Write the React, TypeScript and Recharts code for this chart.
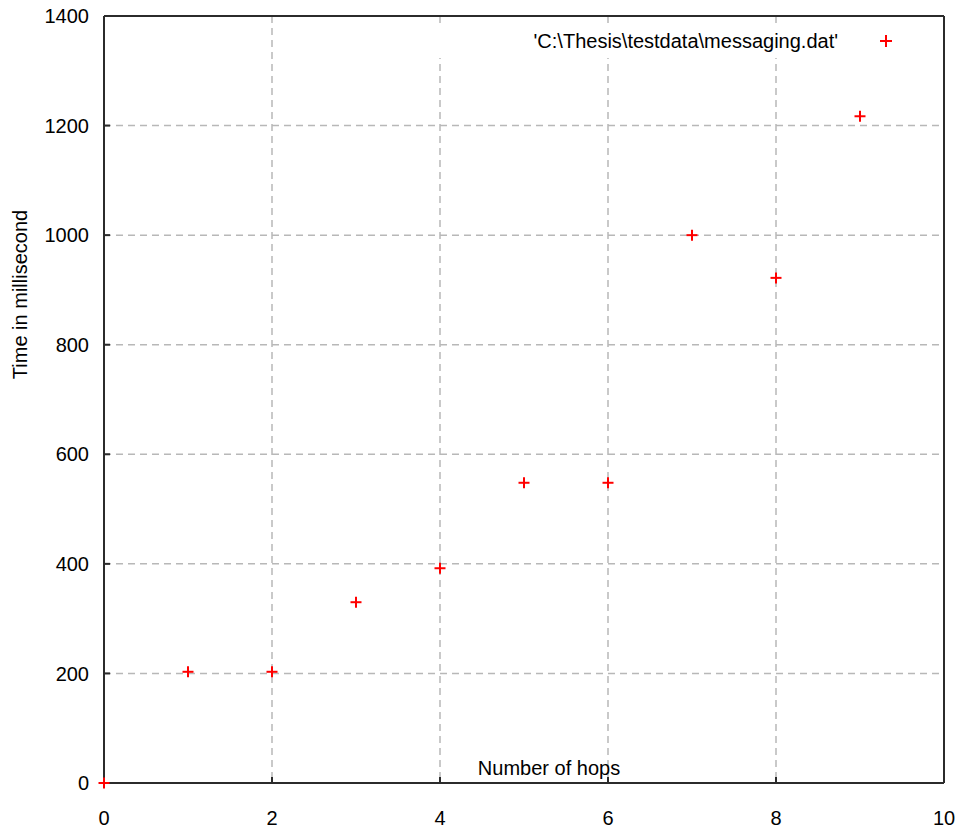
import React from "react";
import {
  CartesianGrid,
  Label,
  Legend,
  Scatter,
  ScatterChart,
  XAxis,
  YAxis,
} from "recharts";

const hops = [0, 1, 2, 3, 4, 5, 6, 7, 8, 9];
const timeMs = [0, 203, 203, 330, 392, 548, 548, 1000, 922, 1217];
const xTicks = [0, 2, 4, 6, 8, 10];
const yTicks = [0, 200, 400, 600, 800, 1000, 1200, 1400];
const seriesName = "'C:\\Thesis\\testdata\\messaging.dat'";

const data = hops.map((h, i) => ({ hops: h, time: timeMs[i] }));

const FONT = "'Liberation Sans', Arial, sans-serif";
const FRAME = "#2b2b2b";
const RED = "#ff0000";

function Plus(props: any) {
  const { cx, cy } = props;
  if (cx == null || cy == null) return null;
  const r = 5.5;
  return (
    <g stroke={RED} strokeWidth={2}>
      <line x1={cx - r} y1={cy} x2={cx + r} y2={cy} />
      <line x1={cx} y1={cy - r} x2={cx} y2={cy + r} />
    </g>
  );
}

function NoMark() {
  return null;
}

function KeyContent() {
  return (
    <div
      style={{
        display: "flex",
        justifyContent: "flex-end",
        alignItems: "center",
        height: "100%",
        paddingRight: 43,
        fontFamily: FONT,
        fontSize: 20,
        color: "#000",
      }}
    >
      <span>{seriesName}</span>
      <svg width={12} height={12} style={{ marginLeft: 42 }}>
        <line x1={0} y1={6} x2={12} y2={6} stroke={RED} strokeWidth={2} />
        <line x1={6} y1={0} x2={6} y2={12} stroke={RED} strokeWidth={2} />
      </svg>
    </div>
  );
}

function XLabel(props: any) {
  const vb = props.viewBox;
  return (
    <text
      x={vb.x + vb.width / 2 + 25}
      y={vb.y - 8}
      textAnchor="middle"
      fontFamily={FONT}
      fontSize={20}
      fill="#000"
    >
      Number of hops
    </text>
  );
}

function YLabel(props: any) {
  const vb = props.viewBox;
  const x = 27;
  const y = vb.y + vb.height / 2 - 105;
  return (
    <text
      x={x}
      y={y}
      transform={`rotate(-90, ${x}, ${y})`}
      textAnchor="middle"
      fontFamily={FONT}
      fontSize={20}
      fill="#000"
    >
      Time in millisecond
    </text>
  );
}

export default function App() {
  const tickStyle = { fontSize: 20, fill: "#000", fontFamily: FONT };
  const lineStyle = { stroke: FRAME, strokeWidth: 2 };
  return (
    <div
      style={{
        position: "absolute",
        left: 0,
        top: 0,
        width: 958,
        height: 829,
        background: "#fff",
      }}
    >
      <ScatterChart
        width={958}
        height={829}
        margin={{ top: 15, right: 13, bottom: 0, left: 0 }}
      >
        <CartesianGrid
          stroke="#b8b8b8"
          strokeWidth={1.5}
          strokeDasharray="7 5"
        />
        <XAxis
          type="number"
          dataKey="hops"
          domain={[0, 10]}
          ticks={xTicks}
          height={46}
          tickSize={-6}
          tickMargin={34}
          tick={tickStyle}
          axisLine={lineStyle}
          tickLine={lineStyle}
        >
          <Label content={XLabel} />
        </XAxis>
        <XAxis
          xAxisId="top"
          orientation="top"
          type="number"
          dataKey="hops"
          domain={[0, 10]}
          ticks={xTicks}
          height={1}
          tickSize={-6}
          tick={false}
          axisLine={lineStyle}
          tickLine={lineStyle}
        />
        <YAxis
          type="number"
          dataKey="time"
          domain={[0, 1400]}
          ticks={yTicks}
          width={104}
          tickSize={-6}
          tickMargin={21}
          tick={tickStyle}
          axisLine={lineStyle}
          tickLine={lineStyle}
        >
          <Label content={YLabel} />
        </YAxis>
        <YAxis
          yAxisId="right"
          orientation="right"
          type="number"
          dataKey="time"
          domain={[0, 1400]}
          ticks={yTicks}
          width={1}
          tickSize={-6}
          tick={false}
          axisLine={lineStyle}
          tickLine={lineStyle}
        />
        <Legend
          layout="horizontal"
          verticalAlign="middle"
          align="center"
          content={KeyContent}
          wrapperStyle={{
            position: "absolute",
            top: 24,
            left: 430,
            width: 505,
            height: 34,
            background: "#fff",
          }}
        />
        <Scatter
          name={seriesName}
          data={data}
          shape={Plus}
          isAnimationActive={false}
        />
        <Scatter
          data={data}
          xAxisId="top"
          yAxisId="right"
          shape={NoMark}
          legendType="none"
          isAnimationActive={false}
        />
      </ScatterChart>
    </div>
  );
}
